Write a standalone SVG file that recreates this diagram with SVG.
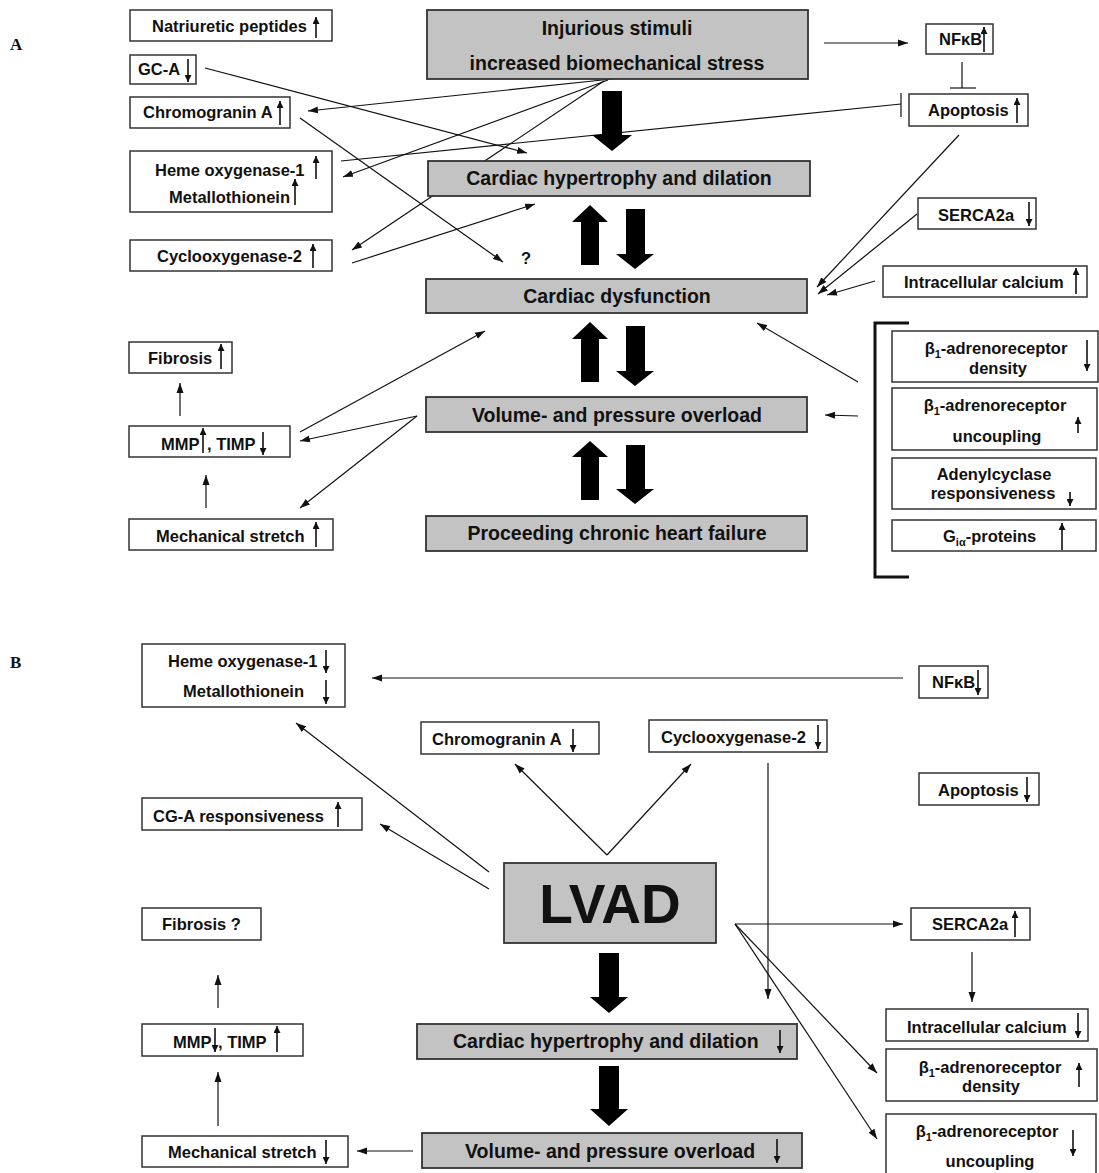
<svg xmlns="http://www.w3.org/2000/svg" width="1099" height="1173" viewBox="0 0 1099 1173">
<defs>
<style>
.box{fill:#fff;stroke:#333;stroke-width:1.5}
.gbox{fill:#c3c3c3;stroke:#333;stroke-width:1.8}
.t{font-family:"Liberation Sans",Arial,sans-serif;font-weight:bold;font-size:16.5px;fill:#111}
.tg{font-size:19.5px}
.tl{font-size:55px}
.lab{font-family:"Liberation Serif","Times New Roman",serif;font-weight:bold;font-size:17px;fill:#111}
.c{stroke:#111;stroke-width:1.2;fill:none}
.ca{stroke:#111;stroke-width:1.2;fill:none;marker-end:url(#ah)}
.ia{stroke:#111;stroke-width:1.6;marker-end:url(#sm)}
.big{fill:#000}
.sub{font-size:11px}
</style>
<marker id="ah" viewBox="0 0 10 8" refX="10" refY="4" markerWidth="10" markerHeight="8" markerUnits="userSpaceOnUse" orient="auto"><path d="M0,0.5 L10,4 L0,7.5 z" fill="#111"/></marker>
<marker id="sm" viewBox="0 0 10 10" refX="10" refY="5" markerWidth="7" markerHeight="7" markerUnits="userSpaceOnUse" orient="auto"><path d="M0,0 L10,5 L0,10 z" fill="#111"/></marker>
</defs>
<rect width="1099" height="1173" fill="#fff"/>
<text class="lab" x="10" y="50">A</text>
<text class="lab" x="10" y="668">B</text>

<g id="connectors">
<!-- Panel A -->
<line class="ca" x1="824" y1="43" x2="908" y2="43"/>
<line class="c" x1="962" y1="62" x2="962" y2="88"/>
<line class="c" x1="950" y1="88" x2="976" y2="88"/>
<line class="c" x1="341" y1="161" x2="901" y2="104"/>
<line class="c" x1="901" y1="93" x2="901" y2="117"/>
<line class="ca" x1="959" y1="135" x2="817" y2="287"/>
<line class="ca" x1="917" y1="214" x2="818" y2="294"/>
<line class="ca" x1="875" y1="281" x2="827" y2="295"/>
<line class="ca" x1="612" y1="79" x2="308" y2="111"/>
<line class="ca" x1="608" y1="80" x2="343" y2="177"/>
<line class="ca" x1="604" y1="81" x2="352" y2="250"/>
<line class="ca" x1="205" y1="68" x2="527" y2="153"/>
<line class="ca" x1="300" y1="118" x2="503" y2="262"/>
<line class="ca" x1="352" y1="263" x2="535" y2="204"/>
<line class="ca" x1="300" y1="432" x2="485" y2="331"/>
<line class="ca" x1="417" y1="416" x2="300" y2="441"/>
<line class="ca" x1="417" y1="416" x2="300" y2="508"/>
<line class="ca" x1="858" y1="382" x2="757" y2="323"/>
<line class="ca" x1="858" y1="416" x2="825" y2="415"/>
<line class="ca" x1="180" y1="416" x2="180" y2="383"/>
<line class="ca" x1="206" y1="508" x2="206" y2="475"/>
<path d="M909,323 H875 V577 H909" stroke="#111" stroke-width="3" fill="none"/>
<polygon class="big" points="602,91 622,91 622,135 632,135 612,151 592,135 602,135"/>
<polygon class="big" points="590,205 608,222 599,222 599,265 581,265 581,222 572,222"/>
<polygon class="big" points="626,209 645,209 645,254 654,254 635,269 616,254 626,254"/>
<polygon class="big" points="590,322 608,339 599,339 599,382 581,382 581,339 572,339"/>
<polygon class="big" points="626,326 645,326 645,371 654,371 635,386 616,371 626,371"/>
<polygon class="big" points="590,441 608,457 599,457 599,500 581,500 581,457 572,457"/>
<polygon class="big" points="626,445 645,445 645,489 654,489 635,504 616,489 626,489"/>
<!-- Panel B -->
<line class="ca" x1="903" y1="678" x2="372" y2="678"/>
<line class="ca" x1="607" y1="855" x2="515" y2="764"/>
<line class="ca" x1="607" y1="855" x2="691" y2="764"/>
<line class="ca" x1="768" y1="763" x2="768" y2="999"/>
<line class="ca" x1="489" y1="872" x2="296" y2="723"/>
<line class="ca" x1="489" y1="889" x2="380" y2="824"/>
<line class="ca" x1="735" y1="924" x2="903" y2="924"/>
<line class="ca" x1="735" y1="924" x2="877" y2="1073"/>
<line class="ca" x1="735" y1="924" x2="877" y2="1139"/>
<line class="ca" x1="972" y1="952" x2="972" y2="1002"/>
<line class="ca" x1="218" y1="1008" x2="218" y2="975"/>
<line class="ca" x1="218" y1="1126" x2="218" y2="1072"/>
<line class="ca" x1="413" y1="1151" x2="357" y2="1151"/>
<polygon class="big" points="599,953 619,953 619,997 628,997 609,1013 590,997 599,997"/>
<polygon class="big" points="599,1066 619,1066 619,1109 628,1109 609,1126 590,1109 599,1109"/>
</g>

<!-- Panel A nodes -->
<g id="natriuretic">
<rect class="box" x="130" y="10" width="202" height="31"/>
<text class="t" x="152" y="32">Natriuretic peptides</text>
<line class="ia" x1="316" y1="38" x2="316" y2="17"/>
</g>
<g id="gca">
<rect class="box" x="130" y="55" width="66" height="29"/>
<text class="t" x="138" y="75">GC-A</text>
<line class="ia" x1="188" y1="59" x2="188" y2="82"/>
</g>
<g id="chromograninA">
<rect class="box" x="130" y="97" width="160" height="31"/>
<text class="t" x="143" y="118">Chromogranin A</text>
<line class="ia" x1="280" y1="125" x2="280" y2="101"/>
</g>
<g id="heme">
<rect class="box" x="130" y="151" width="202" height="61"/>
<text class="t" x="155" y="176">Heme oxygenase-1</text>
<line class="ia" x1="316" y1="179" x2="316" y2="156"/>
<text class="t" x="169" y="203">Metallothionein</text>
<line class="ia" x1="295" y1="205" x2="295" y2="179"/>
</g>
<g id="cox2">
<rect class="box" x="130" y="240" width="202" height="31"/>
<text class="t" x="157" y="262">Cyclooxygenase-2</text>
<line class="ia" x1="313" y1="268" x2="313" y2="244"/>
</g>
<g id="injurious">
<rect class="gbox" x="427" y="10" width="381" height="69"/>
<text class="t tg" x="617" y="35" text-anchor="middle">Injurious stimuli</text>
<text class="t tg" x="617" y="70" text-anchor="middle">increased biomechanical stress</text>
</g>
<g id="hypertrophyA">
<rect class="gbox" x="428" y="161" width="382" height="35"/>
<text class="t tg" x="619" y="185" text-anchor="middle">Cardiac hypertrophy and dilation</text>
</g>
<g id="question">
<text class="t" x="521" y="264" font-size="17">?</text>
</g>
<g id="nfkbA">
<rect class="box" x="926" y="24" width="67" height="30"/>
<text class="t" x="939" y="45">NFκB</text>
<line class="ia" x1="984" y1="52" x2="984" y2="27"/>
</g>
<g id="apoptosisA">
<rect class="box" x="909" y="94" width="119" height="32"/>
<text class="t" x="928" y="116">Apoptosis</text>
<line class="ia" x1="1017" y1="123" x2="1017" y2="98"/>
</g>
<g id="sercaA">
<rect class="box" x="918" y="198" width="118" height="31"/>
<text class="t" x="938" y="221">SERCA2a</text>
<line class="ia" x1="1029" y1="202" x2="1029" y2="226"/>
</g>
<g id="calciumA">
<rect class="box" x="883" y="266" width="204" height="31"/>
<text class="t" x="904" y="288">Intracellular calcium</text>
<line class="ia" x1="1076" y1="294" x2="1076" y2="268"/>
</g>
<g id="dysfunction">
<rect class="gbox" x="426" y="279" width="381" height="34"/>
<text class="t tg" x="617" y="303" text-anchor="middle">Cardiac dysfunction</text>
</g>
<g id="volumeA">
<rect class="gbox" x="426" y="397" width="381" height="35"/>
<text class="t tg" x="617" y="422" text-anchor="middle">Volume- and pressure overload</text>
</g>
<g id="proceeding">
<rect class="gbox" x="426" y="516" width="381" height="35"/>
<text class="t tg" x="617" y="540" text-anchor="middle">Proceeding chronic heart failure</text>
</g>
<g id="fibrosisA">
<rect class="box" x="129" y="342" width="103" height="31"/>
<text class="t" x="148" y="364">Fibrosis</text>
<line class="ia" x1="221" y1="369" x2="221" y2="344"/>
</g>
<g id="mmpA">
<rect class="box" x="129" y="426" width="161" height="31"/>
<text class="t" x="161" y="450">MMP</text>
<line class="ia" x1="203" y1="453" x2="203" y2="428"/>
<text class="t" x="207" y="450">, TIMP</text>
<line class="ia" x1="263" y1="432" x2="263" y2="455"/>
</g>
<g id="stretchA">
<rect class="box" x="129" y="519" width="204" height="31"/>
<text class="t" x="156" y="542">Mechanical stretch</text>
<line class="ia" x1="316" y1="547" x2="316" y2="522"/>
</g>
<g id="b1densityA">
<rect class="box" x="892" y="331" width="206" height="51"/>
<text class="t" x="996" y="354" text-anchor="middle">β<tspan class="sub" dy="4">1</tspan><tspan dy="-4">-adrenoreceptor</tspan></text>
<text class="t" x="998" y="374" text-anchor="middle">density</text>
<line class="ia" x1="1087" y1="340" x2="1087" y2="371"/>
</g>
<g id="b1uncouplingA">
<rect class="box" x="892" y="388" width="205" height="62"/>
<text class="t" x="995" y="411" text-anchor="middle">β<tspan class="sub" dy="4">1</tspan><tspan dy="-4">-adrenoreceptor</tspan></text>
<text class="t" x="997" y="442" text-anchor="middle">uncoupling</text>
<line class="ia" x1="1078" y1="433" x2="1078" y2="417"/>
</g>
<g id="adenylcyclase">
<rect class="box" x="892" y="458" width="204" height="51"/>
<text class="t" x="994" y="480" text-anchor="middle">Adenylcyclase</text>
<text class="t" x="993" y="499" text-anchor="middle">responsiveness</text>
<line class="ia" x1="1070" y1="492" x2="1070" y2="506"/>
</g>
<g id="giproteins">
<rect class="box" x="892" y="520" width="204" height="31"/>
<text class="t" x="943" y="542">G<tspan class="sub" dy="4">iα</tspan><tspan dy="-4">-proteins</tspan></text>
<line class="ia" x1="1062" y1="550" x2="1062" y2="523"/>
</g>

<!-- Panel B nodes -->
<g id="hemeB">
<rect class="box" x="142" y="644" width="203" height="63"/>
<text class="t" x="168" y="667">Heme oxygenase-1</text>
<line class="ia" x1="326" y1="650" x2="326" y2="673"/>
<text class="t" x="183" y="697">Metallothionein</text>
<line class="ia" x1="326" y1="680" x2="326" y2="704"/>
</g>
<g id="chromograninB">
<rect class="box" x="421" y="722" width="178" height="32"/>
<text class="t" x="432" y="745">Chromogranin A</text>
<line class="ia" x1="573" y1="729" x2="573" y2="752"/>
</g>
<g id="cox2B">
<rect class="box" x="649" y="720" width="178" height="32"/>
<text class="t" x="661" y="743">Cyclooxygenase-2</text>
<line class="ia" x1="818" y1="725" x2="818" y2="749"/>
</g>
<g id="nfkbB">
<rect class="box" x="919" y="666" width="69" height="32"/>
<text class="t" x="932" y="688">NFκB</text>
<line class="ia" x1="978" y1="670" x2="978" y2="695"/>
</g>
<g id="apoptosisB">
<rect class="box" x="919" y="773" width="120" height="32"/>
<text class="t" x="938" y="796">Apoptosis</text>
<line class="ia" x1="1027" y1="777" x2="1027" y2="802"/>
</g>
<g id="cgaB">
<rect class="box" x="142" y="798" width="220" height="32"/>
<text class="t" x="153" y="822">CG-A responsiveness</text>
<line class="ia" x1="338" y1="827" x2="338" y2="802"/>
</g>
<g id="lvad">
<rect class="gbox" x="504" y="863" width="212" height="80"/>
<text class="t tl" x="610" y="923" text-anchor="middle">LVAD</text>
</g>
<g id="fibrosisB">
<rect class="box" x="142" y="908" width="119" height="32"/>
<text class="t" x="162" y="930">Fibrosis ?</text>
</g>
<g id="mmpB">
<rect class="box" x="142" y="1024" width="161" height="32"/>
<text class="t" x="173" y="1048">MMP</text>
<line class="ia" x1="215" y1="1028" x2="215" y2="1052"/>
<text class="t" x="218" y="1048">, TIMP</text>
<line class="ia" x1="277" y1="1052" x2="277" y2="1026"/>
</g>
<g id="stretchB">
<rect class="box" x="142" y="1136" width="206" height="31"/>
<text class="t" x="168" y="1158">Mechanical stretch</text>
<line class="ia" x1="326" y1="1140" x2="326" y2="1164"/>
</g>
<g id="hypertrophyB">
<rect class="gbox" x="417" y="1024" width="380" height="35"/>
<text class="t tg" x="453" y="1048">Cardiac hypertrophy and dilation</text>
<line class="ia" x1="780" y1="1030" x2="780" y2="1053"/>
</g>
<g id="volumeB">
<rect class="gbox" x="422" y="1133" width="380" height="35"/>
<text class="t tg" x="465" y="1158">Volume- and pressure overload</text>
<line class="ia" x1="777" y1="1139" x2="777" y2="1163"/>
</g>
<g id="sercaB">
<rect class="box" x="911" y="908" width="119" height="32"/>
<text class="t" x="932" y="930">SERCA2a</text>
<line class="ia" x1="1015" y1="937" x2="1015" y2="911"/>
</g>
<g id="calciumB">
<rect class="box" x="886" y="1009" width="202" height="32"/>
<text class="t" x="907" y="1033">Intracellular calcium</text>
<line class="ia" x1="1078" y1="1013" x2="1078" y2="1038"/>
</g>
<g id="b1densityB">
<rect class="box" x="886" y="1049" width="211" height="52"/>
<text class="t" x="990" y="1073" text-anchor="middle">β<tspan class="sub" dy="4">1</tspan><tspan dy="-4">-adrenoreceptor</tspan></text>
<text class="t" x="991" y="1092" text-anchor="middle">density</text>
<line class="ia" x1="1079" y1="1087" x2="1079" y2="1063"/>
</g>
<g id="b1uncouplingB">
<rect class="box" x="886" y="1114" width="210" height="70"/>
<text class="t" x="987" y="1137" text-anchor="middle">β<tspan class="sub" dy="4">1</tspan><tspan dy="-4">-adrenoreceptor</tspan></text>
<text class="t" x="990" y="1167" text-anchor="middle">uncoupling</text>
<line class="ia" x1="1073" y1="1130" x2="1073" y2="1156"/>
</g>
</svg>
